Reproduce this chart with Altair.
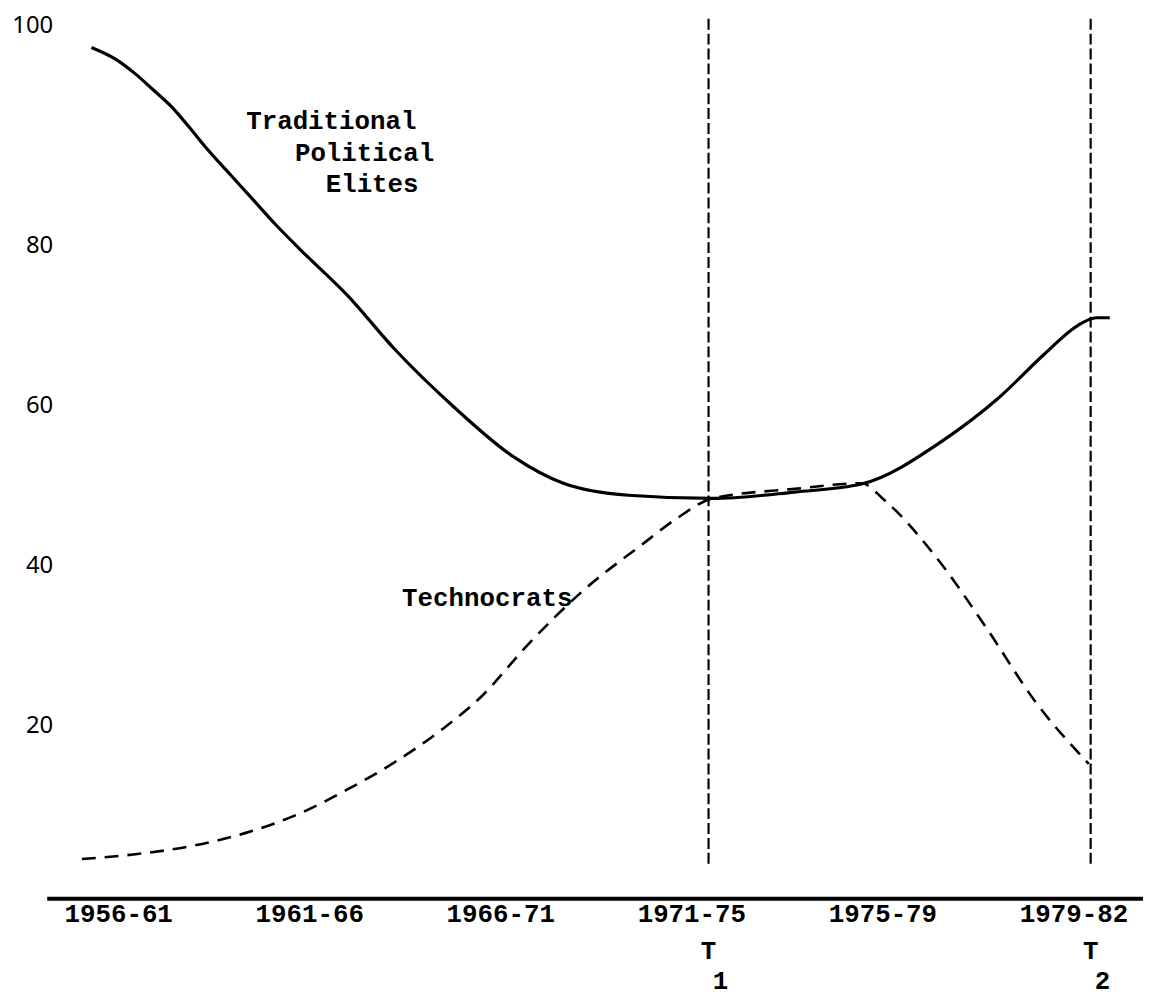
import altair as alt
import pandas as pd

# ---- data -------------------------------------------------------------
periods = ["1956-61", "1961-66", "1966-71", "1971-75", "1975-79", "1979-82"]
y_ticks = [20, 40, 60, 80, 100]

# Traditional Political Elites (x = position along the period axis, 0 = 1956-61)
trad_x = [-0.14, -0.01, 0.09, 0.18, 0.28, 0.37, 0.46, 0.59, 0.70, 0.82, 0.95,
          1.20, 1.45, 1.75, 2.07, 2.33, 2.67, 3.11, 3.54, 3.89, 4.32, 4.60,
          4.85, 5.02, 5.12, 5.19]
trad_y = [98.0, 96.9, 95.6, 94.2, 92.6, 90.8, 88.9, 86.4, 84.3, 82.0, 79.6,
          73.8, 67.0, 60.0, 53.6, 50.3, 48.8, 48.4, 49.2, 50.2, 55.7, 60.8,
          66.5, 70.0, 71.0, 71.0]

# Technocrats
tech_x = [-0.19, 0.09, 0.40, 0.70, 0.95, 1.20, 1.46, 1.70, 1.90, 2.14, 2.43,
          2.74, 2.93, 3.11, 3.54, 3.89, 4.01, 4.28, 4.55, 4.80, 5.08]
tech_y = [3.3, 3.9, 5.0, 6.8, 9.0, 12.0, 15.6, 19.6, 23.6, 30.0, 36.8,
          42.6, 46.0, 48.4, 49.6, 50.3, 48.2, 41.1, 32.0, 23.0, 15.2]

# Period markers T1 / T2
mark_names = ["T", "T"]
mark_subs = ["1", "2"]
mark_x = [3.09, 5.09]
mark_top = [100.6, 100.6]
mark_bottom = [2.2, 2.2]
mark_label_y = [-8.2, -8.2]
mark_sub_y = [-12.0, -12.0]

# Curve labels
label_text = ["Traditional", "Political", "Elites", "Technocrats"]
label_x = [0.670, 0.925, 1.086, 1.486]
label_y = [90.6, 87.7, 84.9, 34.9]

# ---- tables -----------------------------------------------------------
trad = pd.DataFrame({"x": trad_x, "y": trad_y})
tech = pd.DataFrame({"x": tech_x, "y": tech_y})
marks = pd.DataFrame({"x": mark_x, "top": mark_top, "bottom": mark_bottom,
                      "name": mark_names, "sub": mark_subs,
                      "ly": mark_label_y, "sy": mark_sub_y})
labels = pd.DataFrame({"text": label_text, "x": label_x, "y": label_y})

PAD_TOP = 6
W, H = 1104, 887
label_js = "[" + ",".join("'%s'" % p for p in periods) + "]"

x_scale = alt.Scale(domain=[-0.374, 5.364], nice=False, zero=False)
y_scale = alt.Scale(domain=[-1.6, 80, 100], range=[H, 230, 8], nice=False, zero=False)

MONO = "Liberation Mono"

x_axis = alt.Axis(
    values=list(range(len(periods))), labelExpr=label_js + "[datum.value]",
    title=None, grid=False, ticks=False, domain=True, domainColor="black",
    domainWidth=4, labelFont=MONO, labelFontSize=26, labelFontWeight="bold",
    labelColor="black", labelPadding=2, labelFlush=False, labelOverlap=False,
)
y_axis = alt.Axis(
    values=y_ticks, title=None, grid=False, ticks=False, domain=False,
    labelFont="Noto Sans", labelFontSize=24, labelColor="black",
    labelPadding=0, offset=-6,
)

X = alt.X("x:Q", scale=x_scale, axis=x_axis)
Y = alt.Y("y:Q", scale=y_scale, axis=y_axis)

trad_line = alt.Chart(trad).mark_line(
    color="black", strokeWidth=3.2, interpolate="monotone"
).encode(x=X, y=Y)

tech_line = alt.Chart(tech).mark_line(
    color="black", strokeWidth=2.6, strokeDash=[14, 9], interpolate="monotone"
).encode(x=alt.X("x:Q", scale=x_scale), y=alt.Y("y:Q", scale=y_scale))

rules = alt.Chart(marks).mark_rule(
    color="black", strokeWidth=2.2, strokeDash=[11, 4]
).encode(x=alt.X("x:Q", scale=x_scale), y=alt.Y("top:Q", scale=y_scale),
         y2="bottom:Q")

mark_t = alt.Chart(marks).mark_text(
    font=MONO, fontSize=26, fontWeight="bold", color="black",
    baseline="middle", align="center"
).encode(x=alt.X("x:Q", scale=x_scale), y=alt.Y("ly:Q", scale=y_scale), text="name:N")

mark_s = alt.Chart(marks).mark_text(
    font=MONO, fontSize=26, fontWeight="bold", color="black",
    baseline="middle", align="center", dx=12
).encode(x=alt.X("x:Q", scale=x_scale), y=alt.Y("sy:Q", scale=y_scale), text="sub:N")

curve_labels = alt.Chart(labels).mark_text(
    font=MONO, fontSize=26, fontWeight="bold", color="black", align="left",
    baseline="alphabetic"
).encode(x=alt.X("x:Q", scale=x_scale), y=alt.Y("y:Q", scale=y_scale), text="text:N")

chart = alt.layer(trad_line, tech_line, rules, mark_t, mark_s, curve_labels).properties(
    width=W, height=H,
    background="white",
    autosize=alt.AutoSizeParams(type="none"),
    padding={"left": 39, "top": PAD_TOP, "right": 0, "bottom": 97},
).configure_view(stroke=None)

chart.save("out.html", embed_options={"renderer": "svg", "actions": False})
